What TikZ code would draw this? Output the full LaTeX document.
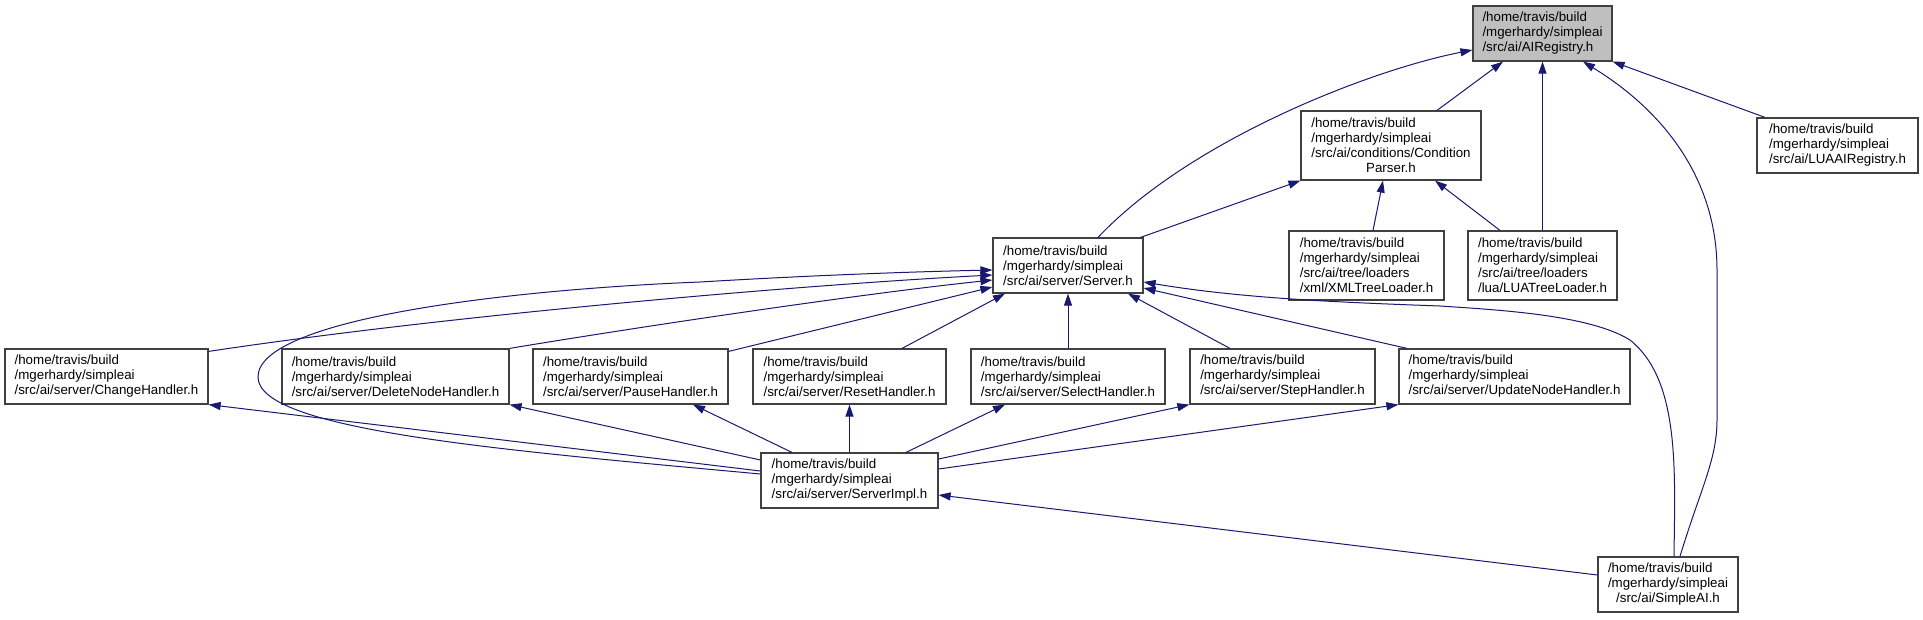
\documentclass[tikz,border=0pt]{standalone}
\usepackage{fontspec}
\setmainfont{Liberation Sans}
\usepackage{tikz}
\usetikzlibrary{arrows.meta}
\definecolor{edgeblue}{HTML}{191970}
\definecolor{boxline}{HTML}{404040}
\definecolor{focusgray}{HTML}{BFBFBF}
\tikzset{
  filebox/.style={draw=boxline,fill=white,line width=1.2pt,
                  align=left,inner sep=0pt,minimum height=55pt,
                  font=\fontsize{13.33}{15}\selectfont},
  focusbox/.style={filebox,fill=focusgray},
  incarr/.style={-{Triangle[length=12pt,width=8pt]},draw=edgeblue,line width=1pt}
}

\begin{document}
\begin{tikzpicture}[x=1pt,y=-1pt]
  \fill[white] (0,0) rectangle (1923,619);
  \useasboundingbox (0,0) rectangle (1923,619);

  \node[focusbox,minimum width=139pt] (reg) at (1542.5,33.5)
    {/home/travis/build\\/mgerhardy/simpleai\\/src/ai/AIRegistry.h};
  \node[filebox,minimum width=180pt,minimum height=69pt] (cond) at (1391,145.5)
    {/home/travis/build\\/mgerhardy/simpleai\\/src/ai/conditions/Condition\\\hfill Parser.h\hfill\mbox{}};
  \node[filebox,minimum width=161pt] (luareg) at (1837.5,145.5)
    {/home/travis/build\\/mgerhardy/simpleai\\/src/ai/LUAAIRegistry.h};
  \node[filebox,minimum width=150pt] (srv) at (1068,265.5)
    {/home/travis/build\\/mgerhardy/simpleai\\/src/ai/server/Server.h};
  \node[filebox,minimum width=155pt,minimum height=69pt] (xmlld) at (1366.5,265.5)
    {/home/travis/build\\/mgerhardy/simpleai\\/src/ai/tree/loaders\\/xml/XMLTreeLoader.h};
  \node[filebox,minimum width=149pt,minimum height=69pt] (lualdr) at (1542.5,265.5)
    {/home/travis/build\\/mgerhardy/simpleai\\/src/ai/tree/loaders\\/lua/LUATreeLoader.h};

  % handler row
  \foreach \nm/\x/\w/\fn in {chg/106.5/203/ChangeHandler,delnode/395.5/227/DeleteNodeHandler,
      pause/630.5/195/PauseHandler,reset/849.5/193/ResetHandler,select/1068/194/SelectHandler,
      stp/1282.5/185/StepHandler,upd/1514.5/231/UpdateNodeHandler} {
    \node[filebox,minimum width=\w pt] (\nm) at (\x,376.5)
      {/home/travis/build\\/mgerhardy/simpleai\\/src/ai/server/\fn.h};
  }

  \node[filebox,minimum width=177pt] (impl) at (849.5,480.5)
    {/home/travis/build\\/mgerhardy/simpleai\\/src/ai/server/ServerImpl.h};
  \node[filebox,minimum width=140pt] (simple) at (1668,584.5)
    {/home/travis/build\\/mgerhardy/simpleai\\\hfill/src/ai/SimpleAI.h\hfill\mbox{}};

  % into AIRegistry.h
  \draw[incarr] ([xshift=30pt]srv.north) .. controls (1190,140) and (1370,70) .. ([yshift=-16.5pt]reg.west);
  \draw[incarr] ([xshift=46pt]cond.north) -- ([xshift=-39.5pt]reg.south);
  \draw[incarr] (lualdr.north) -- (reg.south);
  \draw[incarr] ([xshift=12pt]simple.north) .. controls (1700,490) and (1717,460) .. (1717,420)
    -- (1717,270) .. controls (1717,185) and (1670,115) .. ([xshift=40.5pt]reg.south);
  \draw[incarr] ([xshift=-72.5pt]luareg.north) -- (reg.south east);

  % into ConditionParser.h
  \draw[incarr] ([xshift=-3pt]srv.north east) -- (cond.south west);
  \draw[incarr] ([xshift=6.5pt]xmlld.north) -- ([xshift=-8pt]cond.south);
  \draw[incarr] ([xshift=-42.5pt]lualdr.north) -- ([xshift=44pt]cond.south);

  % into Server.h
  \draw[incarr] ([yshift=-3pt]chg.north east) .. controls (450,315) and (800,285) .. ([yshift=-9.5pt]srv.west);
  \draw[incarr] (delnode.north east) .. controls (620,330) and (850,295) .. ([yshift=-14.5pt]srv.west);
  \draw[incarr] ([yshift=-3pt]pause.north east) -- ([yshift=-21.5pt]srv.west);
  \draw[incarr] ([xshift=52.5pt]reset.north) -- ([xshift=-63pt]srv.south);
  \draw[incarr] (select.north) -- (srv.south);
  \draw[incarr] ([xshift=-52.5pt]stp.north) -- ([xshift=60pt]srv.south);
  \draw[incarr] ([xshift=-107.5pt]upd.north) -- ([yshift=-22.5pt]srv.east);
  \draw[incarr] ([yshift=6.5pt]impl.west) .. controls (500,450) and (258,430) .. (258,377)
    .. controls (258,320) and (500,290) .. (700,282)
    .. controls (800,276) and (900,272) .. ([yshift=-4.5pt]srv.west);
  \draw[incarr] ([xshift=6pt]simple.north) .. controls (1675,470) and (1680,380) .. (1630,340)
    .. controls (1590,315) and (1500,310) .. (1440,306)
    .. controls (1330,302) and (1240,298) .. ([yshift=-16.5pt]srv.east);

  % from ServerImpl.h
  \draw[incarr] ([yshift=9.5pt]impl.west) -- (chg.south east);
  \draw[incarr] ([yshift=20.5pt]impl.west) -- (delnode.south east);
  \draw[incarr] ([xshift=-57.5pt]impl.north) -- ([xshift=62.5pt]pause.south);
  \draw[incarr] (impl.north) -- (reset.south);
  \draw[incarr] ([xshift=56.5pt]impl.north) -- ([xshift=-63pt]select.south);
  \draw[incarr] ([yshift=21.5pt]impl.east) -- (stp.south west);
  \draw[incarr] ([yshift=11.5pt]impl.east) -- (upd.south west);
  \draw[incarr] ([yshift=9.5pt]simple.west) -- ([yshift=-14.5pt]impl.east);
\end{tikzpicture}
\end{document}
